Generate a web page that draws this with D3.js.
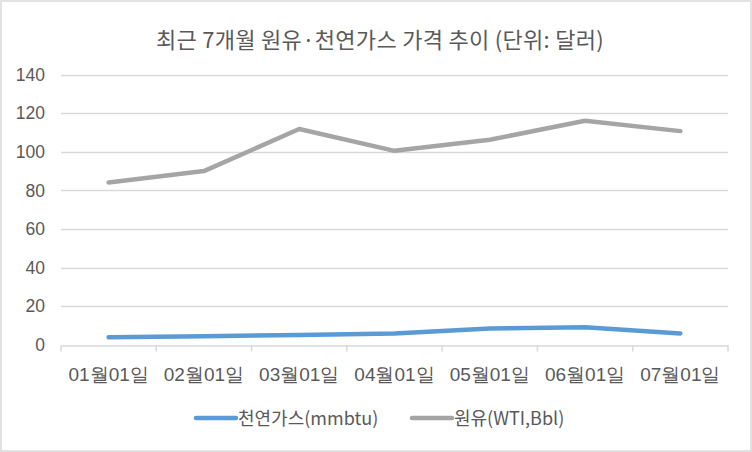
<!DOCTYPE html>
<html><head><meta charset="utf-8">
<script src="https://cdn.jsdelivr.net/npm/d3@7"></script>
<style>
html,body{margin:0;padding:0;background:#fff;}
svg{display:block;font-family:"Malgun Gothic","Noto Sans CJK KR","Noto Sans",sans-serif;}
</style></head><body>
<svg id="c" width="752" height="452"></svg>
<script>
const categories = ["01월01일","02월01일","03월01일","04월01일","05월01일","06월01일","07월01일"];
const gasValues = [4.0, 4.5, 5.2, 6.0, 8.6, 9.2, 6.0];
const oilValues = [84.1, 90.0, 111.8, 100.5, 106.2, 116.1, 110.7];
const seriesNames = ["천연가스(mmbtu)", "원유(WTI,Bbl)"];
const yTicks = [0, 20, 40, 60, 80, 100, 120, 140];
const title = "최근 7개월 원유·천연가스 가격 추이 (단위: 달러)";

const svg = d3.select("#c");
const W = 752, H = 452;
svg.append("rect").attr("x",1).attr("y",1).attr("width",W-2).attr("height",H-2)
  .attr("fill","#fff").attr("stroke","#D9D9D9").attr("stroke-width",1.5);

const m = {left:61, right:752-728, top:74.5, bottom:452-345};
const x = d3.scaleBand().domain(categories).range([m.left, W-m.right]);
const y = d3.scaleLinear().domain([0,140]).range([H-m.bottom, m.top]);

svg.append("text").attr("x",380).attr("y",48).attr("text-anchor","middle")
  .attr("fill","#595959").attr("font-size",22).attr("letter-spacing",0.3).text(title);

// gridlines
svg.append("g").selectAll("line").data(yTicks.filter(d=>d>0)).join("line")
  .attr("x1",m.left).attr("x2",W-m.right)
  .attr("y1",d=>Math.round(y(d))+0.5).attr("y2",d=>Math.round(y(d))+0.5)
  .attr("stroke","#D9D9D9").attr("stroke-width",1.5);

// y axis labels
const ya = svg.append("g").attr("transform",`translate(${m.left},0)`)
  .call(d3.axisLeft(y).tickValues(yTicks).tickSize(0).tickPadding(16));
ya.select(".domain").remove();
ya.selectAll("text").attr("fill","#595959").attr("font-size",17.5).attr("font-family","inherit");

// x axis
const xa = svg.append("g").attr("transform",`translate(0,${Math.round(y(0))+0.5})`)
  .call(d3.axisBottom(x).tickSize(0).tickPadding(22));
xa.select(".domain").attr("stroke","#D9D9D9").attr("stroke-width",1.5);
xa.selectAll("text").attr("fill","#595959").attr("font-size",19).attr("font-family","inherit");
const bounds = categories.map(c=>x(c)).concat([W-m.right]);
xa.selectAll(".bt").data(bounds).join("line").attr("class","bt")
  .attr("x1",d=>d).attr("x2",d=>d).attr("y1",0).attr("y2",6)
  .attr("stroke","#D9D9D9").attr("stroke-width",1.5);

const line = d3.line().x((d,i)=>x(categories[i])+x.bandwidth()/2).y(d=>y(d));
svg.append("path").datum(oilValues).attr("d",line).attr("fill","none")
  .attr("stroke","#A5A5A5").attr("stroke-width",4.5).attr("stroke-linecap","round").attr("stroke-linejoin","round");
svg.append("path").datum(gasValues).attr("d",line).attr("fill","none")
  .attr("stroke","#5B9BD5").attr("stroke-width",4.5).attr("stroke-linecap","round").attr("stroke-linejoin","round");

// legend
const leg = [{name:seriesNames[0],color:"#5B9BD5",x:196},{name:seriesNames[1],color:"#A5A5A5",x:412}];
const lg = svg.append("g");
leg.forEach(l=>{
  lg.append("line").attr("x1",l.x).attr("x2",l.x+40).attr("y1",418).attr("y2",418)
    .attr("stroke",l.color).attr("stroke-width",4.5).attr("stroke-linecap","round");
  lg.append("text").attr("x",l.x+42).attr("y",425).attr("fill","#595959").attr("font-size",18).text(l.name);
});
</script>
</body></html>
